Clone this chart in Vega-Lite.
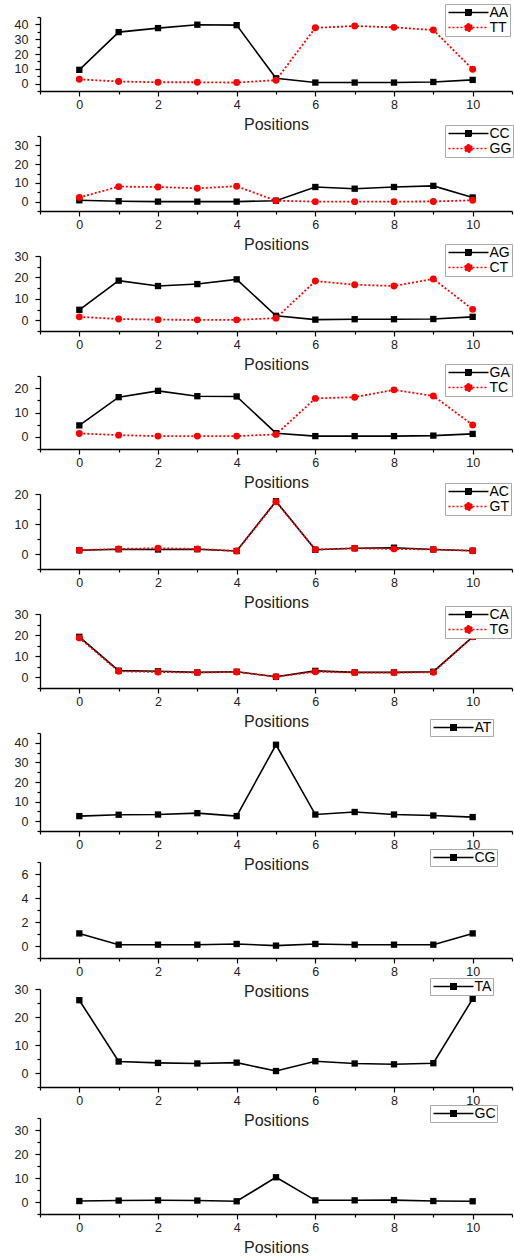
{
 "$schema": "https://vega.github.io/schema/vega-lite/v6.json",
 "padding": {"left": 14, "top": 3, "right": 0, "bottom": 0},
 "background": "white",
 "datasets": {
  "p1": [
   {"series":"AA","pos":0,"value":9.3},{"series":"AA","pos":1,"value":34.8},{"series":"AA","pos":2,"value":37.5},{"series":"AA","pos":3,"value":39.8},{"series":"AA","pos":4,"value":39.5},{"series":"AA","pos":5,"value":3.6},{"series":"AA","pos":6,"value":0.7},{"series":"AA","pos":7,"value":0.7},{"series":"AA","pos":8,"value":0.7},{"series":"AA","pos":9,"value":1.1},{"series":"AA","pos":10,"value":2.5},
   {"series":"TT","pos":0,"value":2.9},{"series":"TT","pos":1,"value":1.4},{"series":"TT","pos":2,"value":0.9},{"series":"TT","pos":3,"value":0.9},{"series":"TT","pos":4,"value":0.7},{"series":"TT","pos":5,"value":2.3},{"series":"TT","pos":6,"value":37.7},{"series":"TT","pos":7,"value":38.9},{"series":"TT","pos":8,"value":38.0},{"series":"TT","pos":9,"value":36.2},{"series":"TT","pos":10,"value":9.7}
  ],
  "p2": [
   {"series":"CC","pos":0,"value":0.7},{"series":"CC","pos":1,"value":0.2},{"series":"CC","pos":2,"value":0},{"series":"CC","pos":3,"value":0},{"series":"CC","pos":4,"value":0},{"series":"CC","pos":5,"value":0.5},{"series":"CC","pos":6,"value":7.8},{"series":"CC","pos":7,"value":6.9},{"series":"CC","pos":8,"value":7.8},{"series":"CC","pos":9,"value":8.4},{"series":"CC","pos":10,"value":2.2},
   {"series":"GG","pos":0,"value":2.2},{"series":"GG","pos":1,"value":8.0},{"series":"GG","pos":2,"value":7.8},{"series":"GG","pos":3,"value":7.1},{"series":"GG","pos":4,"value":8.2},{"series":"GG","pos":5,"value":0.5},{"series":"GG","pos":6,"value":0},{"series":"GG","pos":7,"value":0},{"series":"GG","pos":8,"value":0},{"series":"GG","pos":9,"value":0.1},{"series":"GG","pos":10,"value":0.7}
  ],
  "p3": [
   {"series":"AG","pos":0,"value":4.9},{"series":"AG","pos":1,"value":18.5},{"series":"AG","pos":2,"value":16.0},{"series":"AG","pos":3,"value":16.9},{"series":"AG","pos":4,"value":19.1},{"series":"AG","pos":5,"value":2.1},{"series":"AG","pos":6,"value":0.3},{"series":"AG","pos":7,"value":0.5},{"series":"AG","pos":8,"value":0.5},{"series":"AG","pos":9,"value":0.6},{"series":"AG","pos":10,"value":1.6},
   {"series":"CT","pos":0,"value":1.6},{"series":"CT","pos":1,"value":0.6},{"series":"CT","pos":2,"value":0.3},{"series":"CT","pos":3,"value":0.2},{"series":"CT","pos":4,"value":0.2},{"series":"CT","pos":5,"value":1.0},{"series":"CT","pos":6,"value":18.3},{"series":"CT","pos":7,"value":16.6},{"series":"CT","pos":8,"value":16.0},{"series":"CT","pos":9,"value":19.3},{"series":"CT","pos":10,"value":5.1}
  ],
  "p4": [
   {"series":"GA","pos":0,"value":4.7},{"series":"GA","pos":1,"value":16.3},{"series":"GA","pos":2,"value":18.9},{"series":"GA","pos":3,"value":16.7},{"series":"GA","pos":4,"value":16.6},{"series":"GA","pos":5,"value":1.5},{"series":"GA","pos":6,"value":0.3},{"series":"GA","pos":7,"value":0.3},{"series":"GA","pos":8,"value":0.3},{"series":"GA","pos":9,"value":0.5},{"series":"GA","pos":10,"value":1.2},
   {"series":"TC","pos":0,"value":1.4},{"series":"TC","pos":1,"value":0.7},{"series":"TC","pos":2,"value":0.3},{"series":"TC","pos":3,"value":0.3},{"series":"TC","pos":4,"value":0.3},{"series":"TC","pos":5,"value":1.0},{"series":"TC","pos":6,"value":15.8},{"series":"TC","pos":7,"value":16.3},{"series":"TC","pos":8,"value":19.3},{"series":"TC","pos":9,"value":16.8},{"series":"TC","pos":10,"value":4.9}
  ],
  "p5": [
   {"series":"AC","pos":0,"value":1.25},{"series":"AC","pos":1,"value":1.6},{"series":"AC","pos":2,"value":1.5},{"series":"AC","pos":3,"value":1.6},{"series":"AC","pos":4,"value":1.0},{"series":"AC","pos":5,"value":17.6},{"series":"AC","pos":6,"value":1.4},{"series":"AC","pos":7,"value":1.9},{"series":"AC","pos":8,"value":2.1},{"series":"AC","pos":9,"value":1.5},{"series":"AC","pos":10,"value":1.1},
   {"series":"GT","pos":0,"value":1.25},{"series":"GT","pos":1,"value":1.7},{"series":"GT","pos":2,"value":1.9},{"series":"GT","pos":3,"value":1.7},{"series":"GT","pos":4,"value":1.0},{"series":"GT","pos":5,"value":17.4},{"series":"GT","pos":6,"value":1.5},{"series":"GT","pos":7,"value":1.9},{"series":"GT","pos":8,"value":1.7},{"series":"GT","pos":9,"value":1.5},{"series":"GT","pos":10,"value":1.1}
  ],
  "p6": [
   {"series":"CA","pos":0,"value":19.2},{"series":"CA","pos":1,"value":3.2},{"series":"CA","pos":2,"value":2.9},{"series":"CA","pos":3,"value":2.4},{"series":"CA","pos":4,"value":2.7},{"series":"CA","pos":5,"value":0.3},{"series":"CA","pos":6,"value":3.1},{"series":"CA","pos":7,"value":2.4},{"series":"CA","pos":8,"value":2.4},{"series":"CA","pos":9,"value":2.7},{"series":"CA","pos":10,"value":19.2},
   {"series":"TG","pos":0,"value":18.7},{"series":"TG","pos":1,"value":2.9},{"series":"TG","pos":2,"value":2.6},{"series":"TG","pos":3,"value":2.3},{"series":"TG","pos":4,"value":2.6},{"series":"TG","pos":5,"value":0.3},{"series":"TG","pos":6,"value":2.7},{"series":"TG","pos":7,"value":2.3},{"series":"TG","pos":8,"value":2.3},{"series":"TG","pos":9,"value":2.4},{"series":"TG","pos":10,"value":19.2}
  ],
  "p7": [
   {"series":"AT","pos":0,"value":2.6},{"series":"AT","pos":1,"value":3.3},{"series":"AT","pos":2,"value":3.4},{"series":"AT","pos":3,"value":4.1},{"series":"AT","pos":4,"value":2.6},{"series":"AT","pos":5,"value":39.0},{"series":"AT","pos":6,"value":3.4},{"series":"AT","pos":7,"value":4.7},{"series":"AT","pos":8,"value":3.4},{"series":"AT","pos":9,"value":2.9},{"series":"AT","pos":10,"value":2.1}
  ],
  "p8": [
   {"series":"CG","pos":0,"value":1.05},{"series":"CG","pos":1,"value":0.11},{"series":"CG","pos":2,"value":0.11},{"series":"CG","pos":3,"value":0.11},{"series":"CG","pos":4,"value":0.17},{"series":"CG","pos":5,"value":0.03},{"series":"CG","pos":6,"value":0.17},{"series":"CG","pos":7,"value":0.11},{"series":"CG","pos":8,"value":0.11},{"series":"CG","pos":9,"value":0.11},{"series":"CG","pos":10,"value":1.05}
  ],
  "p9": [
   {"series":"TA","pos":0,"value":26.0},{"series":"TA","pos":1,"value":4.1},{"series":"TA","pos":2,"value":3.6},{"series":"TA","pos":3,"value":3.4},{"series":"TA","pos":4,"value":3.7},{"series":"TA","pos":5,"value":0.7},{"series":"TA","pos":6,"value":4.2},{"series":"TA","pos":7,"value":3.4},{"series":"TA","pos":8,"value":3.1},{"series":"TA","pos":9,"value":3.5},{"series":"TA","pos":10,"value":26.5}
  ],
  "p10": [
   {"series":"GC","pos":0,"value":0.4},{"series":"GC","pos":1,"value":0.6},{"series":"GC","pos":2,"value":0.7},{"series":"GC","pos":3,"value":0.6},{"series":"GC","pos":4,"value":0.3},{"series":"GC","pos":5,"value":10.3},{"series":"GC","pos":6,"value":0.7},{"series":"GC","pos":7,"value":0.7},{"series":"GC","pos":8,"value":0.8},{"series":"GC","pos":9,"value":0.4},{"series":"GC","pos":10,"value":0.3}
  ]
 },
 "vconcat": [
  {
   "spacing": 45, "bounds": "flush",
   "resolve": {"scale": {"color": "independent"}, "legend": {"color": "independent"}},
   "vconcat": [
    {
     "width": 472, "height": 74, "data": {"name": "p1"},
     "encoding": {
      "x": {"field": "pos", "type": "quantitative", "scale": {"domain": [-1, 11], "nice": false, "zero": false}, "axis": {"title": "Positions", "values": [-1,0,1,2,3,4,5,6,7,8,9,10,11], "labelExpr": "datum.value >= 0 && datum.value <= 10 && datum.value % 2 == 0 ? datum.label : ''", "tickSize": {"condition": {"test": "datum.value % 2 == 0", "value": 5}, "value": 3}}},
      "y": {"field": "value", "type": "quantitative", "scale": {"domain": [-5, 45], "nice": false, "zero": false}, "axis": {"title": null, "values": [-5,0,5,10,15,20,25,30,35,40,45], "labelExpr": "datum.value >= 0 && datum.value % 10 == 0 ? datum.label : ''", "tickSize": {"condition": {"test": "datum.value % 10 == 0", "value": 5}, "value": 3}}},
      "color": {"field": "series", "type": "nominal", "scale": {"domain": ["AA","TT"], "range": ["#000000","#ff0000"]},
       "legend": {"orient": "none", "legendX": 405, "legendY": -13, "title": null, "encoding": {"symbols": {"shape": {"condition": {"test": "indexof(['TT','GG','CT','TC','GT','TG'], datum.value) >= 0", "value": "M-4,0H4M0.75,0A0.75,0.75,0,1,1,-0.75,0A0.75,0.75,0,1,1,0.75,0Z"}, "value": "M-4,0H4M-0.55,-0.55H0.55V0.55H-0.55Z"}, "fill": {"condition": {"test": "indexof(['TT','GG','CT','TC','GT','TG'], datum.value) >= 0", "value": "#ff0000"}, "value": "#000000"}, "stroke": {"condition": {"test": "indexof(['TT','GG','CT','TC','GT','TG'], datum.value) >= 0", "value": "#ff0000"}, "value": "#000000"}, "strokeDash": {"condition": {"test": "indexof(['TT','GG','CT','TC','GT','TG'], datum.value) >= 0", "value": [2,2]}, "value": [1,0]}, "strokeWidth": {"value": 1.5}, "opacity": {"value": 1}, "size": {"value": 100}}}}}
     },
     "layer": [
      {"transform": [{"filter": "datum.series == 'AA'"}], "mark": {"type": "line", "strokeWidth": 1.6}, "encoding": {}},
      {"transform": [{"filter": "datum.series == 'TT'"}], "mark": {"type": "line", "strokeWidth": 1.8, "strokeDash": [2, 2]}, "encoding": {}},
      {"transform": [{"filter": "datum.series == 'AA'"}], "mark": {"type": "point", "shape": "square", "filled": true, "opacity": 1, "size": 40}},
      {"transform": [{"filter": "datum.series == 'TT'"}], "mark": {"type": "point", "shape": "circle", "filled": true, "opacity": 1, "size": 48}}
     ]
    },
    {
     "width": 472, "height": 75, "data": {"name": "p2"},
     "encoding": {
      "x": {"field": "pos", "type": "quantitative", "scale": {"domain": [-1, 11], "nice": false, "zero": false}, "axis": {"title": "Positions", "values": [-1,0,1,2,3,4,5,6,7,8,9,10,11], "labelExpr": "datum.value >= 0 && datum.value <= 10 && datum.value % 2 == 0 ? datum.label : ''", "tickSize": {"condition": {"test": "datum.value % 2 == 0", "value": 5}, "value": 3}}},
      "y": {"field": "value", "type": "quantitative", "scale": {"domain": [-5, 35], "nice": false, "zero": false}, "axis": {"title": null, "values": [-5,0,5,10,15,20,25,30,35], "labelExpr": "datum.value >= 0 && datum.value % 10 == 0 ? datum.label : ''", "tickSize": {"condition": {"test": "datum.value % 10 == 0", "value": 5}, "value": 3}}},
      "color": {"field": "series", "type": "nominal", "scale": {"domain": ["CC","GG"], "range": ["#000000","#ff0000"]},
       "legend": {"orient": "none", "legendX": 405, "legendY": -11, "title": null, "encoding": {"symbols": {"shape": {"condition": {"test": "indexof(['TT','GG','CT','TC','GT','TG'], datum.value) >= 0", "value": "M-4,0H4M0.75,0A0.75,0.75,0,1,1,-0.75,0A0.75,0.75,0,1,1,0.75,0Z"}, "value": "M-4,0H4M-0.55,-0.55H0.55V0.55H-0.55Z"}, "fill": {"condition": {"test": "indexof(['TT','GG','CT','TC','GT','TG'], datum.value) >= 0", "value": "#ff0000"}, "value": "#000000"}, "stroke": {"condition": {"test": "indexof(['TT','GG','CT','TC','GT','TG'], datum.value) >= 0", "value": "#ff0000"}, "value": "#000000"}, "strokeDash": {"condition": {"test": "indexof(['TT','GG','CT','TC','GT','TG'], datum.value) >= 0", "value": [2,2]}, "value": [1,0]}, "strokeWidth": {"value": 1.5}, "opacity": {"value": 1}, "size": {"value": 100}}}}}
     },
     "layer": [
      {"transform": [{"filter": "datum.series == 'CC'"}], "mark": {"type": "line", "strokeWidth": 1.6}, "encoding": {}},
      {"transform": [{"filter": "datum.series == 'GG'"}], "mark": {"type": "line", "strokeWidth": 1.8, "strokeDash": [2, 2]}, "encoding": {}},
      {"transform": [{"filter": "datum.series == 'CC'"}], "mark": {"type": "point", "shape": "square", "filled": true, "opacity": 1, "size": 40}},
      {"transform": [{"filter": "datum.series == 'GG'"}], "mark": {"type": "point", "shape": "circle", "filled": true, "opacity": 1, "size": 48}}
     ]
    },
    {
     "width": 472, "height": 75, "data": {"name": "p3"},
     "encoding": {
      "x": {"field": "pos", "type": "quantitative", "scale": {"domain": [-1, 11], "nice": false, "zero": false}, "axis": {"title": "Positions", "values": [-1,0,1,2,3,4,5,6,7,8,9,10,11], "labelExpr": "datum.value >= 0 && datum.value <= 10 && datum.value % 2 == 0 ? datum.label : ''", "tickSize": {"condition": {"test": "datum.value % 2 == 0", "value": 5}, "value": 3}}},
      "y": {"field": "value", "type": "quantitative", "scale": {"domain": [-5, 30], "nice": false, "zero": false}, "axis": {"title": null, "values": [-5,0,5,10,15,20,25,30], "labelExpr": "datum.value >= 0 && datum.value % 10 == 0 ? datum.label : ''", "tickSize": {"condition": {"test": "datum.value % 10 == 0", "value": 5}, "value": 3}}},
      "color": {"field": "series", "type": "nominal", "scale": {"domain": ["AG","CT"], "range": ["#000000","#ff0000"]},
       "legend": {"orient": "none", "legendX": 405, "legendY": -12, "title": null, "encoding": {"symbols": {"shape": {"condition": {"test": "indexof(['TT','GG','CT','TC','GT','TG'], datum.value) >= 0", "value": "M-4,0H4M0.75,0A0.75,0.75,0,1,1,-0.75,0A0.75,0.75,0,1,1,0.75,0Z"}, "value": "M-4,0H4M-0.55,-0.55H0.55V0.55H-0.55Z"}, "fill": {"condition": {"test": "indexof(['TT','GG','CT','TC','GT','TG'], datum.value) >= 0", "value": "#ff0000"}, "value": "#000000"}, "stroke": {"condition": {"test": "indexof(['TT','GG','CT','TC','GT','TG'], datum.value) >= 0", "value": "#ff0000"}, "value": "#000000"}, "strokeDash": {"condition": {"test": "indexof(['TT','GG','CT','TC','GT','TG'], datum.value) >= 0", "value": [2,2]}, "value": [1,0]}, "strokeWidth": {"value": 1.5}, "opacity": {"value": 1}, "size": {"value": 100}}}}}
     },
     "layer": [
      {"transform": [{"filter": "datum.series == 'AG'"}], "mark": {"type": "line", "strokeWidth": 1.6}, "encoding": {}},
      {"transform": [{"filter": "datum.series == 'CT'"}], "mark": {"type": "line", "strokeWidth": 1.8, "strokeDash": [2, 2]}, "encoding": {}},
      {"transform": [{"filter": "datum.series == 'AG'"}], "mark": {"type": "point", "shape": "square", "filled": true, "opacity": 1, "size": 40}},
      {"transform": [{"filter": "datum.series == 'CT'"}], "mark": {"type": "point", "shape": "circle", "filled": true, "opacity": 1, "size": 48}}
     ]
    },
    {
     "width": 472, "height": 73, "data": {"name": "p4"},
     "encoding": {
      "x": {"field": "pos", "type": "quantitative", "scale": {"domain": [-1, 11], "nice": false, "zero": false}, "axis": {"title": "Positions", "values": [-1,0,1,2,3,4,5,6,7,8,9,10,11], "labelExpr": "datum.value >= 0 && datum.value <= 10 && datum.value % 2 == 0 ? datum.label : ''", "tickSize": {"condition": {"test": "datum.value % 2 == 0", "value": 5}, "value": 3}}},
      "y": {"field": "value", "type": "quantitative", "scale": {"domain": [-5, 25], "nice": false, "zero": false}, "axis": {"title": null, "values": [-5,0,5,10,15,20,25], "labelExpr": "datum.value >= 0 && datum.value % 10 == 0 ? datum.label : ''", "tickSize": {"condition": {"test": "datum.value % 10 == 0", "value": 5}, "value": 3}}},
      "color": {"field": "series", "type": "nominal", "scale": {"domain": ["GA","TC"], "range": ["#000000","#ff0000"]},
       "legend": {"orient": "none", "legendX": 405, "legendY": -12, "title": null, "encoding": {"symbols": {"shape": {"condition": {"test": "indexof(['TT','GG','CT','TC','GT','TG'], datum.value) >= 0", "value": "M-4,0H4M0.75,0A0.75,0.75,0,1,1,-0.75,0A0.75,0.75,0,1,1,0.75,0Z"}, "value": "M-4,0H4M-0.55,-0.55H0.55V0.55H-0.55Z"}, "fill": {"condition": {"test": "indexof(['TT','GG','CT','TC','GT','TG'], datum.value) >= 0", "value": "#ff0000"}, "value": "#000000"}, "stroke": {"condition": {"test": "indexof(['TT','GG','CT','TC','GT','TG'], datum.value) >= 0", "value": "#ff0000"}, "value": "#000000"}, "strokeDash": {"condition": {"test": "indexof(['TT','GG','CT','TC','GT','TG'], datum.value) >= 0", "value": [2,2]}, "value": [1,0]}, "strokeWidth": {"value": 1.5}, "opacity": {"value": 1}, "size": {"value": 100}}}}}
     },
     "layer": [
      {"transform": [{"filter": "datum.series == 'GA'"}], "mark": {"type": "line", "strokeWidth": 1.6}, "encoding": {}},
      {"transform": [{"filter": "datum.series == 'TC'"}], "mark": {"type": "line", "strokeWidth": 1.8, "strokeDash": [2, 2]}, "encoding": {}},
      {"transform": [{"filter": "datum.series == 'GA'"}], "mark": {"type": "point", "shape": "square", "filled": true, "opacity": 1, "size": 40}},
      {"transform": [{"filter": "datum.series == 'TC'"}], "mark": {"type": "point", "shape": "circle", "filled": true, "opacity": 1, "size": 48}}
     ]
    },
    {
     "width": 472, "height": 75, "data": {"name": "p5"},
     "encoding": {
      "x": {"field": "pos", "type": "quantitative", "scale": {"domain": [-1, 11], "nice": false, "zero": false}, "axis": {"title": "Positions", "values": [-1,0,1,2,3,4,5,6,7,8,9,10,11], "labelExpr": "datum.value >= 0 && datum.value <= 10 && datum.value % 2 == 0 ? datum.label : ''", "tickSize": {"condition": {"test": "datum.value % 2 == 0", "value": 5}, "value": 3}}},
      "y": {"field": "value", "type": "quantitative", "scale": {"domain": [-5, 20], "nice": false, "zero": false}, "axis": {"title": null, "values": [-5,0,5,10,15,20], "labelExpr": "datum.value >= 0 && datum.value % 10 == 0 ? datum.label : ''", "tickSize": {"condition": {"test": "datum.value % 10 == 0", "value": 5}, "value": 3}}},
      "color": {"field": "series", "type": "nominal", "scale": {"domain": ["AC","GT"], "range": ["#000000","#ff0000"]},
       "legend": {"orient": "none", "legendX": 405, "legendY": -11, "title": null, "encoding": {"symbols": {"shape": {"condition": {"test": "indexof(['TT','GG','CT','TC','GT','TG'], datum.value) >= 0", "value": "M-4,0H4M0.75,0A0.75,0.75,0,1,1,-0.75,0A0.75,0.75,0,1,1,0.75,0Z"}, "value": "M-4,0H4M-0.55,-0.55H0.55V0.55H-0.55Z"}, "fill": {"condition": {"test": "indexof(['TT','GG','CT','TC','GT','TG'], datum.value) >= 0", "value": "#ff0000"}, "value": "#000000"}, "stroke": {"condition": {"test": "indexof(['TT','GG','CT','TC','GT','TG'], datum.value) >= 0", "value": "#ff0000"}, "value": "#000000"}, "strokeDash": {"condition": {"test": "indexof(['TT','GG','CT','TC','GT','TG'], datum.value) >= 0", "value": [2,2]}, "value": [1,0]}, "strokeWidth": {"value": 1.5}, "opacity": {"value": 1}, "size": {"value": 100}}}}}
     },
     "layer": [
      {"transform": [{"filter": "datum.series == 'AC'"}], "mark": {"type": "line", "strokeWidth": 1.6}, "encoding": {}},
      {"transform": [{"filter": "datum.series == 'GT'"}], "mark": {"type": "line", "strokeWidth": 1.8, "strokeDash": [2, 2]}, "encoding": {}},
      {"transform": [{"filter": "datum.series == 'AC'"}], "mark": {"type": "point", "shape": "square", "filled": true, "opacity": 1, "size": 40}},
      {"transform": [{"filter": "datum.series == 'GT'"}], "mark": {"type": "point", "shape": "circle", "filled": true, "opacity": 1, "size": 48}}
     ]
    },
    {
     "width": 472, "height": 74, "data": {"name": "p6"},
     "encoding": {
      "x": {"field": "pos", "type": "quantitative", "scale": {"domain": [-1, 11], "nice": false, "zero": false}, "axis": {"title": "Positions", "values": [-1,0,1,2,3,4,5,6,7,8,9,10,11], "labelExpr": "datum.value >= 0 && datum.value <= 10 && datum.value % 2 == 0 ? datum.label : ''", "tickSize": {"condition": {"test": "datum.value % 2 == 0", "value": 5}, "value": 3}}},
      "y": {"field": "value", "type": "quantitative", "scale": {"domain": [-5, 30], "nice": false, "zero": false}, "axis": {"title": null, "values": [-5,0,5,10,15,20,25,30], "labelExpr": "datum.value >= 0 && datum.value % 10 == 0 ? datum.label : ''", "tickSize": {"condition": {"test": "datum.value % 10 == 0", "value": 5}, "value": 3}}},
      "color": {"field": "series", "type": "nominal", "scale": {"domain": ["CA","TG"], "range": ["#000000","#ff0000"]},
       "legend": {"orient": "none", "legendX": 405, "legendY": -8, "title": null, "encoding": {"symbols": {"shape": {"condition": {"test": "indexof(['TT','GG','CT','TC','GT','TG'], datum.value) >= 0", "value": "M-4,0H4M0.75,0A0.75,0.75,0,1,1,-0.75,0A0.75,0.75,0,1,1,0.75,0Z"}, "value": "M-4,0H4M-0.55,-0.55H0.55V0.55H-0.55Z"}, "fill": {"condition": {"test": "indexof(['TT','GG','CT','TC','GT','TG'], datum.value) >= 0", "value": "#ff0000"}, "value": "#000000"}, "stroke": {"condition": {"test": "indexof(['TT','GG','CT','TC','GT','TG'], datum.value) >= 0", "value": "#ff0000"}, "value": "#000000"}, "strokeDash": {"condition": {"test": "indexof(['TT','GG','CT','TC','GT','TG'], datum.value) >= 0", "value": [2,2]}, "value": [1,0]}, "strokeWidth": {"value": 1.5}, "opacity": {"value": 1}, "size": {"value": 100}}}}}
     },
     "layer": [
      {"transform": [{"filter": "datum.series == 'CA'"}], "mark": {"type": "line", "strokeWidth": 1.6}, "encoding": {}},
      {"transform": [{"filter": "datum.series == 'TG'"}], "mark": {"type": "line", "strokeWidth": 1.8, "strokeDash": [2, 2]}, "encoding": {}},
      {"transform": [{"filter": "datum.series == 'CA'"}], "mark": {"type": "point", "shape": "square", "filled": true, "opacity": 1, "size": 40}},
      {"transform": [{"filter": "datum.series == 'TG'"}], "mark": {"type": "point", "shape": "circle", "filled": true, "opacity": 1, "size": 48}}
     ]
    }
   ]
  },
  {
   "spacing": 31, "bounds": "flush",
   "resolve": {"scale": {"color": "independent"}, "legend": {"color": "independent"}},
   "vconcat": [
    {
     "width": 472, "height": 98, "data": {"name": "p7"},
     "encoding": {
      "x": {"field": "pos", "type": "quantitative", "scale": {"domain": [-1, 11], "nice": false, "zero": false}, "axis": {"title": "Positions", "values": [-1,0,1,2,3,4,5,6,7,8,9,10,11], "labelExpr": "datum.value >= 0 && datum.value <= 10 && datum.value % 2 == 0 ? datum.label : ''", "tickSize": {"condition": {"test": "datum.value % 2 == 0", "value": 5}, "value": 3}}},
      "y": {"field": "value", "type": "quantitative", "scale": {"domain": [-5, 45], "nice": false, "zero": false}, "axis": {"title": null, "values": [-5,0,5,10,15,20,25,30,35,40,45], "labelExpr": "datum.value >= 0 && datum.value % 10 == 0 ? datum.label : ''", "tickSize": {"condition": {"test": "datum.value % 10 == 0", "value": 5}, "value": 3}}},
      "color": {"field": "series", "type": "nominal", "scale": {"domain": ["AT"], "range": ["#000000"]},
       "legend": {"orient": "none", "legendX": 390, "legendY": -14, "title": null, "encoding": {"symbols": {"shape": {"value": "M-4,0H4M-0.55,-0.55H0.55V0.55H-0.55Z"}, "fill": {"value": "#000000"}, "stroke": {"value": "#000000"}, "strokeWidth": {"value": 1.5}, "opacity": {"value": 1}, "size": {"value": 100}}}}}
     },
     "layer": [
      {"mark": {"type": "line", "strokeWidth": 1.6}, "encoding": {}},
      {"mark": {"type": "point", "shape": "square", "filled": true, "opacity": 1, "size": 40}}
     ]
    },
    {
     "width": 472, "height": 96, "data": {"name": "p8"},
     "encoding": {
      "x": {"field": "pos", "type": "quantitative", "scale": {"domain": [-1, 11], "nice": false, "zero": false}, "axis": {"title": "Positions", "values": [-1,0,1,2,3,4,5,6,7,8,9,10,11], "labelExpr": "datum.value >= 0 && datum.value <= 10 && datum.value % 2 == 0 ? datum.label : ''", "tickSize": {"condition": {"test": "datum.value % 2 == 0", "value": 5}, "value": 3}}},
      "y": {"field": "value", "type": "quantitative", "scale": {"domain": [-1, 7], "nice": false, "zero": false}, "axis": {"title": null, "values": [-1,0,1,2,3,4,5,6,7], "labelExpr": "datum.value >= 0 && datum.value % 2 == 0 ? datum.label : ''", "tickSize": {"condition": {"test": "datum.value % 2 == 0", "value": 5}, "value": 3}}},
      "color": {"field": "series", "type": "nominal", "scale": {"domain": ["CG"], "range": ["#000000"]},
       "legend": {"orient": "none", "legendX": 390, "legendY": -13, "title": null, "encoding": {"symbols": {"shape": {"value": "M-4,0H4M-0.55,-0.55H0.55V0.55H-0.55Z"}, "fill": {"value": "#000000"}, "stroke": {"value": "#000000"}, "strokeWidth": {"value": 1.5}, "opacity": {"value": 1}, "size": {"value": 100}}}}}
     },
     "layer": [
      {"mark": {"type": "line", "strokeWidth": 1.6}, "encoding": {}},
      {"mark": {"type": "point", "shape": "square", "filled": true, "opacity": 1, "size": 40}}
     ]
    },
    {
     "width": 472, "height": 98, "data": {"name": "p9"},
     "encoding": {
      "x": {"field": "pos", "type": "quantitative", "scale": {"domain": [-1, 11], "nice": false, "zero": false}, "axis": {"title": "Positions", "values": [-1,0,1,2,3,4,5,6,7,8,9,10,11], "labelExpr": "datum.value >= 0 && datum.value <= 10 && datum.value % 2 == 0 ? datum.label : ''", "tickSize": {"condition": {"test": "datum.value % 2 == 0", "value": 5}, "value": 3}}},
      "y": {"field": "value", "type": "quantitative", "scale": {"domain": [-5, 30], "nice": false, "zero": false}, "axis": {"title": null, "values": [-5,0,5,10,15,20,25,30], "labelExpr": "datum.value >= 0 && datum.value % 10 == 0 ? datum.label : ''", "tickSize": {"condition": {"test": "datum.value % 10 == 0", "value": 5}, "value": 3}}},
      "color": {"field": "series", "type": "nominal", "scale": {"domain": ["TA"], "range": ["#000000"]},
       "legend": {"orient": "none", "legendX": 390, "legendY": -11, "title": null, "encoding": {"symbols": {"shape": {"value": "M-4,0H4M-0.55,-0.55H0.55V0.55H-0.55Z"}, "fill": {"value": "#000000"}, "stroke": {"value": "#000000"}, "strokeWidth": {"value": 1.5}, "opacity": {"value": 1}, "size": {"value": 100}}}}}
     },
     "layer": [
      {"mark": {"type": "line", "strokeWidth": 1.6}, "encoding": {}},
      {"mark": {"type": "point", "shape": "square", "filled": true, "opacity": 1, "size": 40}}
     ]
    },
    {
     "width": 472, "height": 96, "data": {"name": "p10"},
     "encoding": {
      "x": {"field": "pos", "type": "quantitative", "scale": {"domain": [-1, 11], "nice": false, "zero": false}, "axis": {"title": "Positions", "values": [-1,0,1,2,3,4,5,6,7,8,9,10,11], "labelExpr": "datum.value >= 0 && datum.value <= 10 && datum.value % 2 == 0 ? datum.label : ''", "tickSize": {"condition": {"test": "datum.value % 2 == 0", "value": 5}, "value": 3}}},
      "y": {"field": "value", "type": "quantitative", "scale": {"domain": [-5, 35], "nice": false, "zero": false}, "axis": {"title": null, "values": [-5,0,5,10,15,20,25,30,35], "labelExpr": "datum.value >= 0 && datum.value % 10 == 0 ? datum.label : ''", "tickSize": {"condition": {"test": "datum.value % 10 == 0", "value": 5}, "value": 3}}},
      "color": {"field": "series", "type": "nominal", "scale": {"domain": ["GC"], "range": ["#000000"]},
       "legend": {"orient": "none", "legendX": 390, "legendY": -13, "title": null, "encoding": {"symbols": {"shape": {"value": "M-4,0H4M-0.55,-0.55H0.55V0.55H-0.55Z"}, "fill": {"value": "#000000"}, "stroke": {"value": "#000000"}, "strokeWidth": {"value": 1.5}, "opacity": {"value": 1}, "size": {"value": 100}}}}}
     },
     "layer": [
      {"mark": {"type": "line", "strokeWidth": 1.6}, "encoding": {}},
      {"mark": {"type": "point", "shape": "square", "filled": true, "opacity": 1, "size": 40}}
     ]
    }
   ]
  }
 ],
 "spacing": -12,
 "bounds": "full",
 "resolve": {"scale": {"color": "independent"}, "legend": {"color": "independent"}},
 "config": {
  "view": {"stroke": null},
  "font": "Liberation Sans",
  "axis": {"domainColor": "#000000", "domainWidth": 1.3, "tickColor": "#000000", "tickWidth": 1.2, "tickSize": 5, "labelFont": "Liberation Sans", "labelFontSize": 12.5, "labelColor": "#222222", "titleFont": "Liberation Sans", "titleFontSize": 16, "titleFontWeight": "normal", "titleColor": "#222222", "grid": false, "labelPadding": 2, "labelOverlap": false, "labelFlush": false},
  "axisY": {"labelPadding": 7},
  "axisX": {"titlePadding": 6},
  "legend": {"padding": 1.5, "strokeColor": "#aaaaaa", "fillColor": "#ffffff", "labelFont": "Liberation Sans", "labelFontSize": 14, "labelColor": "#000000", "symbolSize": 100, "symbolStrokeWidth": 1.5, "symbolOffset": 15, "labelOffset": 14, "rowPadding": 1, "symbolLimit": 0}
 }
}
